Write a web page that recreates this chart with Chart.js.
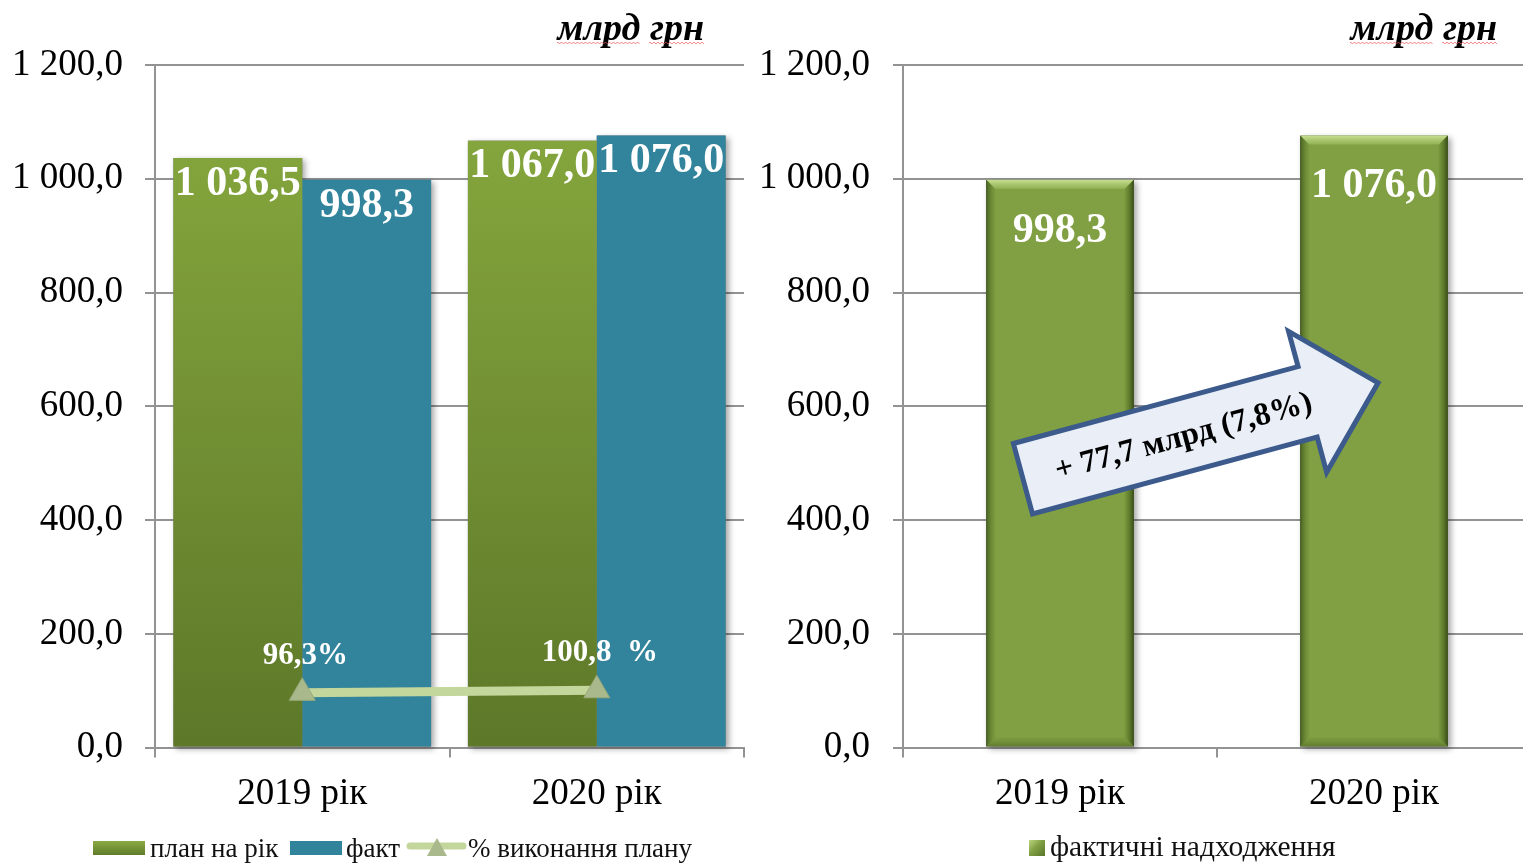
<!DOCTYPE html>
<html>
<head>
<meta charset="utf-8">
<script src="https://cdn.jsdelivr.net/npm/chart.js@4.4.1/dist/chart.umd.min.js"></script>
<style>
html,body{margin:0;padding:0;background:#fff;overflow:hidden;width:1523px;height:864px;position:relative;font-family:'Liberation Serif','Times New Roman',serif;}
canvas{position:absolute;top:0;}
#c1{left:0;}
#c2{left:760px;}
.lg{position:absolute;font-size:27px;line-height:27px;color:#111;white-space:nowrap;}
.sw{position:absolute;}
</style>
</head>
<body>
<canvas id="c1" width="760" height="864"></canvas>
<canvas id="c2" width="771" height="864"></canvas>

<div class="sw" style="left:93px;top:841px;width:52px;height:14px;background:linear-gradient(#8aab42,#5f7b2b)"></div>
<div class="lg" id="lg1" style="left:150px;top:835px"></div>
<div class="sw" style="left:290px;top:841px;width:52px;height:14px;background:#31849b"></div>
<div class="lg" id="lg2" style="left:346px;top:835px"></div>
<svg class="sw" style="left:403px;top:836px" width="66" height="22">
  <line x1="7" y1="10" x2="60" y2="10" stroke="#c3d69b" stroke-width="7" stroke-linecap="round"/>
  <polygon points="34,2 44,20 24,20" fill="#a9b98b"/>
</svg>
<div class="lg" id="lg3" style="left:468px;top:835px"></div>
<div class="sw" style="left:1029px;top:840px;width:16px;height:16px;background:linear-gradient(135deg,#bcd67f,#80a043 45%,#58752a)"></div>
<div class="lg" id="lg4" style="left:1050px;top:832px;font-size:29.5px;line-height:29.5px"></div>

<script>
// ---------- data ----------
const categories = ['2019 рік', '2020 рік'];
const planValues = [1036.5, 1067.0];
const factValues = [998.3, 1076.0];
const percentValues = [96.3, 100.8];
const percentLabels = ['96,3%', '100,8  %'];
const receiptsValues = [998.3, 1076.0];
const yTickValues = [0, 200, 400, 600, 800, 1000, 1200];
const seriesNames = ['план на рік', 'факт', '% виконання плану'];
const receiptsName = 'фактичні надходження';
const unitLabel = 'млрд грн';
const growthLabel = '+ 77,7 млрд (7,8%)';

// ---------- helpers ----------
const serif = "'Liberation Serif','Times New Roman',serif";
const gridColor = '#939393';
const fmt = v => {
  const [i, d] = Number(v).toFixed(1).split('.');
  return i.replace(/\B(?=(\d{3})+(?!\d))/g, ' ') + ',' + d;
};

document.getElementById('lg1').textContent = seriesNames[0];
document.getElementById('lg2').textContent = seriesNames[1];
document.getElementById('lg3').textContent = seriesNames[2];
document.getElementById('lg4').textContent = receiptsName;

function squiggle(ctx, xa, xb, y) {
  ctx.beginPath();
  let up = true;
  ctx.moveTo(xa, y);
  for (let x = xa; x <= xb; x += 2) { ctx.lineTo(x, y + (up ? -1 : 1)); up = !up; }
  ctx.stroke();
}

const unitTitle = {
  id: 'unitTitle',
  afterDraw(chart, args, opts) {
    const {ctx, chartArea} = chart;
    ctx.save();
    ctx.font = `italic bold 38px ${serif}`;
    ctx.fillStyle = '#000';
    ctx.textAlign = 'right';
    ctx.textBaseline = 'alphabetic';
    const xr = chartArea.right - opts.inset;
    ctx.fillText(unitLabel, xr, 40);
    const w = ctx.measureText(unitLabel).width;
    const words = unitLabel.split(' ');
    const w1 = ctx.measureText(words[0]).width;
    const ws = ctx.measureText(words[0] + ' ').width;
    ctx.strokeStyle = 'rgba(235,90,90,0.75)';
    ctx.lineWidth = 1;
    squiggle(ctx, xr - w, xr - w + w1, 43);
    squiggle(ctx, xr - w + ws, xr, 43);
    ctx.restore();
  }
};

const barShadow = {
  id: 'barShadow',
  beforeDatasetsDraw(chart) {
    const {ctx} = chart;
    ctx.save();
    chart.data.datasets.forEach((ds, di) => {
      const meta = chart.getDatasetMeta(di);
      if (meta.type !== 'bar') return;
      meta.data.forEach(el => {
        ctx.shadowColor = 'rgba(0,0,0,0.35)';
        ctx.shadowBlur = 6;
        ctx.shadowOffsetX = 3;
        ctx.shadowOffsetY = 2;
        ctx.fillStyle = '#777';
        ctx.fillRect(el.x - el.width / 2, el.y, el.width, el.base - el.y);
      });
    });
    ctx.restore();
  }
};

const barLabels = {
  id: 'barLabels',
  afterDatasetsDraw(chart, args, opts) {
    const {ctx} = chart;
    ctx.save();
    ctx.fillStyle = '#fff';
    ctx.textAlign = 'center';
    ctx.textBaseline = 'middle';
    chart.data.datasets.forEach((ds, di) => {
      const meta = chart.getDatasetMeta(di);
      if (meta.type === 'bar') {
        ctx.font = `bold 42px ${serif}`;
        meta.data.forEach((el, i) => ctx.fillText(fmt(ds.data[i]), el.x, el.y + opts.offset));
      } else if (meta.type === 'line') {
        ctx.font = `bold 31px ${serif}`;
        meta.data.forEach((el, i) => ctx.fillText(percentLabels[i], el.x + 3, el.y - 37));
      }
    });
    ctx.restore();
  }
};

const bevel = {
  id: 'bevel',
  afterDatasetsDraw(chart) {
    const {ctx} = chart;
    const meta = chart.getDatasetMeta(0);
    ctx.save();
    meta.data.forEach(el => {
      const x0 = el.x - el.width / 2, x1 = el.x + el.width / 2, t = el.y, b = el.base, e = 9;
      let g = ctx.createLinearGradient(0, t, 0, t + e);
      g.addColorStop(0, 'rgba(205,228,150,0.95)');
      g.addColorStop(1, 'rgba(160,192,100,0.6)');
      ctx.fillStyle = g;
      ctx.beginPath(); ctx.moveTo(x0, t); ctx.lineTo(x1, t); ctx.lineTo(x1 - e, t + e); ctx.lineTo(x0 + e, t + e); ctx.closePath(); ctx.fill();
      g = ctx.createLinearGradient(x0, 0, x0 + e, 0);
      g.addColorStop(0, 'rgba(60,85,25,0.85)');
      g.addColorStop(1, 'rgba(110,140,55,0.25)');
      ctx.fillStyle = g;
      ctx.beginPath(); ctx.moveTo(x0, t); ctx.lineTo(x0 + e, t + e); ctx.lineTo(x0 + e, b - e); ctx.lineTo(x0, b); ctx.closePath(); ctx.fill();
      g = ctx.createLinearGradient(x1 - e, 0, x1, 0);
      g.addColorStop(0, 'rgba(100,130,45,0.3)');
      g.addColorStop(1, 'rgba(50,72,18,0.95)');
      ctx.fillStyle = g;
      ctx.beginPath(); ctx.moveTo(x1, t); ctx.lineTo(x1 - e, t + e); ctx.lineTo(x1 - e, b - e); ctx.lineTo(x1, b); ctx.closePath(); ctx.fill();
      g = ctx.createLinearGradient(0, b - e, 0, b);
      g.addColorStop(0, 'rgba(120,150,60,0.4)');
      g.addColorStop(1, 'rgba(80,105,35,0.7)');
      ctx.fillStyle = g;
      ctx.beginPath(); ctx.moveTo(x0, b); ctx.lineTo(x0 + e, b - e); ctx.lineTo(x1 - e, b - e); ctx.lineTo(x1, b); ctx.closePath(); ctx.fill();
    });
    ctx.restore();
  }
};

const growthArrow = {
  id: 'growthArrow',
  afterDraw(chart, args, o) {
    const {ctx, scales: {x, y}} = chart;
    const c0 = x.getPixelForValue(0);
    const idxW = x.getPixelForValue(1) - c0;
    const x0 = c0 + o.from[0] * idxW, y0 = y.getPixelForValue(o.from[1]);
    const x1 = c0 + o.to[0] * idxW, y1 = y.getPixelForValue(o.to[1]);
    const L = Math.hypot(x1 - x0, y1 - y0), ang = Math.atan2(y1 - y0, x1 - x0);
    const sw = o.shaft / 2, hw = o.head / 2, hl = o.headLen;
    ctx.save();
    ctx.translate(x0, y0);
    ctx.rotate(ang);
    ctx.beginPath();
    ctx.moveTo(0, -sw); ctx.lineTo(L - hl, -sw); ctx.lineTo(L - hl, -hw); ctx.lineTo(L, 0);
    ctx.lineTo(L - hl, hw); ctx.lineTo(L - hl, sw); ctx.lineTo(0, sw); ctx.closePath();
    ctx.fillStyle = '#e9eef7';
    ctx.fill();
    ctx.lineWidth = 5;
    ctx.lineJoin = 'miter';
    ctx.strokeStyle = '#3c5b8c';
    ctx.stroke();
    ctx.font = `bold 32px ${serif}`;
    ctx.fillStyle = '#000';
    ctx.textAlign = 'center';
    ctx.textBaseline = 'middle';
    ctx.fillText(growthLabel, o.textAt, 2);
    ctx.restore();
  }
};

const greenGrad = (context) => {
  const {chart} = context;
  const area = chart.chartArea;
  if (!area) return '#76973a';
  const g = chart.ctx.createLinearGradient(0, area.top, 0, area.bottom);
  g.addColorStop(0, '#89ab3f');
  g.addColorStop(1, '#5d7829');
  return g;
};

const yScale = (w, pad) => ({
  min: 0, max: 1200,
  afterBuildTicks: s => { s.ticks = yTickValues.map(v => ({value: v})); },
  afterFit: s => { s.width = w; },
  grid: {color: gridColor, lineWidth: 2, drawTicks: true, tickLength: 10},
  border: {display: true, color: gridColor, width: 2},
  ticks: {font: {family: serif, size: 37}, color: '#000', padding: pad, callback: v => fmt(v)}
});
const xScale = () => ({
  grid: {display: true, drawOnChartArea: false, drawTicks: true, tickLength: 10, color: gridColor, lineWidth: 2, offset: true},
  border: {display: true, color: gridColor, width: 2},
  ticks: {font: {family: serif, size: 37}, color: '#000', padding: 14}
});

new Chart(document.getElementById('c1'), {
  type: 'bar',
  data: {
    labels: categories,
    datasets: [
      {label: seriesNames[0], data: planValues, backgroundColor: greenGrad, order: 1, categoryPercentage: 0.875, barPercentage: 1, borderWidth: 0},
      {label: seriesNames[1], data: factValues, backgroundColor: '#31849b', order: 1, categoryPercentage: 0.875, barPercentage: 1, borderWidth: 0},
      {type: 'line', label: seriesNames[2], data: percentValues, order: 0, borderColor: '#c3d69b', borderWidth: 9,
       pointStyle: 'triangle', pointRadius: 15, pointHoverRadius: 15, pointBackgroundColor: '#a9b98b',
       pointBorderColor: '#98a97a', pointBorderWidth: 1, tension: 0}
    ]
  },
  options: {
    responsive: false, animation: false, devicePixelRatio: 1,
    layout: {padding: {top: 65, bottom: 34, left: 0, right: 15}},
    plugins: {legend: {display: false}, tooltip: {enabled: false}, unitTitle: {inset: 40}, barLabels: {offset: 26}},
    scales: {x: xScale(), y: yScale(155, 22)}
  },
  plugins: [barShadow, barLabels, unitTitle]
});

new Chart(document.getElementById('c2'), {
  type: 'bar',
  data: {
    labels: categories,
    datasets: [
      {label: receiptsName, data: receiptsValues, backgroundColor: '#80a043', borderColor: '#5b772b', borderWidth: 1,
       categoryPercentage: 1, barPercentage: 0.47}
    ]
  },
  options: {
    responsive: false, animation: false, devicePixelRatio: 1,
    layout: {padding: {top: 65, bottom: 34, left: 0, right: 0}},
    plugins: {legend: {display: false}, tooltip: {enabled: false}, unitTitle: {inset: 34}, barLabels: {offset: 51},
      growthArrow: {from: [-0.118, 472.6], to: [1.013, 641.3], shaft: 73, head: 146, headLen: 73, textAt: 166}},
    scales: {x: xScale(), y: yScale(143, 23)}
  },
  plugins: [barShadow, bevel, barLabels, unitTitle, growthArrow]
});
</script>
</body>
</html>
